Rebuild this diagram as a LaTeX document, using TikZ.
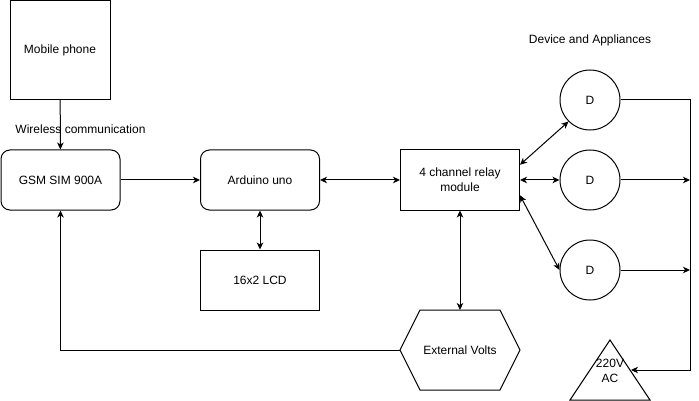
\documentclass[tikz,border=0pt]{standalone}
\usepackage{fontspec}
\setmainfont{Liberation Sans}
\usetikzlibrary{arrows.meta,calc}
\begin{document}
\begin{tikzpicture}[x=1pt,y=-1pt,line width=1pt,
  font=\fontsize{12}{15}\selectfont,
  box/.style={draw, minimum width=119pt, minimum height=60pt, inner sep=0pt, align=center},
  rbox/.style={box, rounded corners=9pt},
  dev/.style={draw, circle, minimum size=60pt, inner sep=0pt},
  tip/.tip={Stealth[length=7pt,width=6.5pt,inset=2pt]},
  arr/.style={-tip},
  darr/.style={tip-tip},
  lbl/.style={inner sep=0pt, align=center}]
\useasboundingbox (0,0) rectangle (699,401);
% nodes
\node[box, minimum width=100pt, minimum height=99pt] (mob) at (60,50) {Mobile phone};
\node[rbox] (gsm) at (60.5,180) {GSM SIM 900A};
\node[rbox] (ard) at (260,180) {Arduino uno};
\node[box] (relay) at (460,180) {4 channel relay\\module};
\node[box] (lcd) at (260,280) {16x2 LCD};
\node[dev] (d1) at (590,100) {D};
\node[dev] (d2) at (590,180) {D};
\node[dev] (d3) at (590,270) {D};
\node[lbl] (devlbl) at (590,40) {Device and Appliances};
\node[lbl] (wlbl) at (80.5,129) {Wireless communication};
% hexagon
\draw (400,350) -- (420,310) -- (500,310) -- (520,350) -- (500,390) -- (420,390) -- cycle;
\node[minimum width=120pt, minimum height=80pt, inner sep=0pt, outer sep=0pt] (ext) at (460,350) {External Volts};
% triangle
\draw (610,340) -- (650,400) -- (570,400) -- cycle;
\node[lbl, font=\fontsize{12}{15}\selectfont] (ac) at (610,371) {220V\\AC};
\coordinate (acin) at (631,370);
\coordinate (rt) at (690,100);
% connectors
\draw[arr] (mob) -- (gsm);
\draw[arr] (gsm) -- (ard);
\draw[darr] (ard) -- (relay);
\draw[darr] (ard) -- (lcd);
\draw[darr] ($(relay.north east)!0.25!(relay.south east)$) -- (d1.225);
\draw[darr] (relay) -- (d2);
\draw[darr] ($(relay.north east)!0.75!(relay.south east)$) -- (d3.west);
\draw[darr] (relay) -- (ext.north);
\draw[arr] (ext.west) -| (gsm.south);
\draw[arr] (d1.east) -- (rt) |- (acin);
\draw[arr] (d2.east) -- (d2.east -| rt);
\draw[arr] (d3.east) -- (d3.east -| rt);
\end{tikzpicture}
\end{document}
